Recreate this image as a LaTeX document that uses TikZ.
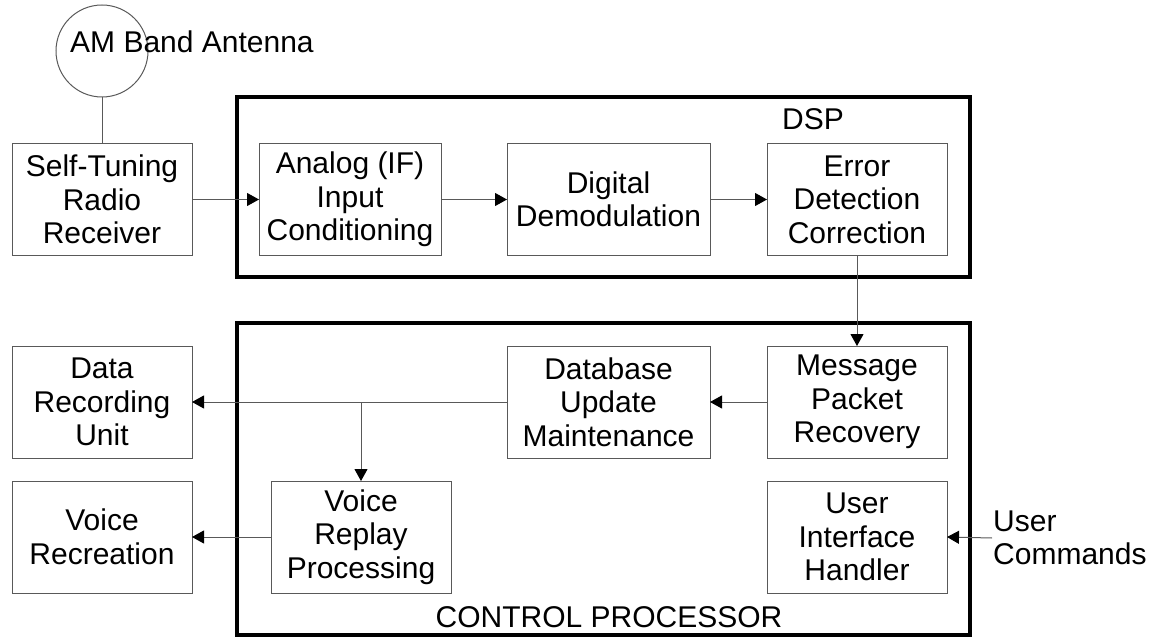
\documentclass[tikz,border=0pt]{standalone}
\usepackage{fontspec}
\setmainfont{Liberation Sans}
\usetikzlibrary{arrows.meta}
\begin{document}
\begin{tikzpicture}[x=1pt,y=-1pt,
  txt/.style={font=\fontsize{30}{33.5}\selectfont, align=center},
  box/.style={txt, draw=black!65, line width=1pt, inner sep=0pt, outer sep=0pt, minimum height=112pt},
  frame/.style={draw=black, line width=4.5pt, inner sep=0pt, outer sep=0pt},
  conn/.style={draw=black!65, line width=1pt},
  arr/.style={conn, -{Triangle[length=12pt,width=13pt,color=black]}}
]
\useasboundingbox (0,0) rectangle (1149,639);
\node[frame, minimum width=733pt, minimum height=180pt] (dsp) at (603.5,187) {};
\node[frame, minimum width=733pt, minimum height=312pt] (ctl) at (603.5,479) {};
\node[draw=black!65, line width=1pt, circle, minimum size=92pt, inner sep=0pt] (ant) at (102,51) {};
\node[txt, anchor=base west, inner sep=0pt] (antl) at (70,53) {AM Band Antenna};
\node[box, minimum width=180pt] (str) at (102,199.5) {Self-Tuning\\Radio\\Receiver};
\node[box, minimum width=182pt] (ana) at (350,199.5) {Analog (IF)\\Input\\Conditioning};
\node[box, minimum width=203pt] (dig) at (608.5,199.5) {Digital\\Demodulation};
\node[box, minimum width=180pt] (err) at (857,199.5) {Error\\Detection\\Correction};
\node[txt, inner sep=0pt] (dspl) at (813,119) {DSP};
\node[box, minimum width=180pt] (dru) at (102,402) {Data\\Recording\\Unit};
\node[box, minimum width=203pt] (dbu) at (608.5,402) {Database\\Update\\Maintenance};
\node[box, minimum width=180pt] (mpr) at (857,402) {Message\\Packet\\Recovery};
\node[box, minimum width=180pt] (vrc) at (102,537) {Voice\\Recreation};
\node[box, minimum width=180pt] (vrp) at (361,537) {Voice\\Replay\\Processing};
\node[box, minimum width=180pt] (uih) at (857,537) {User\\Interface\\Handler};
\node[txt, inner sep=0pt] (ctll) at (609,617) {CONTROL PROCESSOR};
\node[txt, align=left, anchor=west, inner sep=0pt] (usc) at (993,538) {User\\Commands};
\coordinate (br) at (vrp.north |- dbu.west);
\coordinate (uc) at (992,538);
\draw[conn] (ant.south) -- (str.north);
\draw[arr] (str.east) -- (ana.west);
\draw[arr] (ana.east) -- (dig.west);
\draw[arr] (dig.east) -- (err.west);
\draw[arr] (err.south) -- (mpr.north);
\draw[arr] (mpr.west) -- (dbu.east);
\draw[arr] (dbu.west) -- (dru.east);
\draw[arr] (br) -- (vrp.north);
\draw[arr] (vrp.west) -- (vrc.east);
\draw[arr] (uc) -- (uih.east);
\end{tikzpicture}
\end{document}
